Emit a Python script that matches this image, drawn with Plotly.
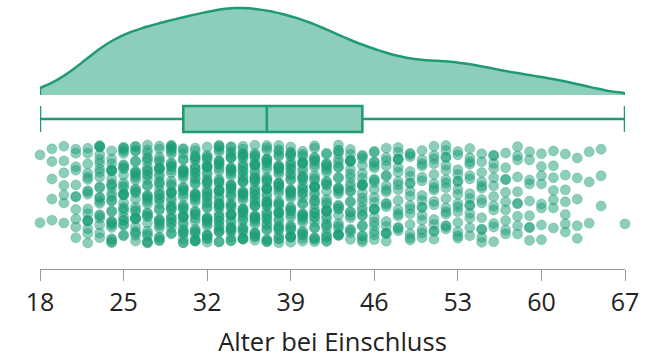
import plotly.graph_objects as go

# Data: number of participants per age
ages = list(range(18, 68))
counts = [2, 5, 7, 11, 17, 22, 26, 28, 29, 31, 32,
          34, 35, 36, 37, 39, 40, 40, 39, 38, 37,
          36, 34, 32, 30, 27, 23, 23, 21,
          18, 17, 16, 15, 15, 16, 15, 14, 13, 12,
          10, 10, 9, 8, 7, 7, 5, 3, 3, 0, 1]
tick_vals = [18, 25, 32, 39, 46, 53, 60, 67]
x_title = "Alter bei Einschluss"

DARK = "#1f9a74"
FILL = "rgba(27,158,119,0.5)"

values = []
for a, c in zip(ages, counts):
    values += [a] * c

# deterministic vertical jitter (layout only)
px, pf = [], []
phi = 0.6180339887
for a, c in zip(ages, counts):
    off = (a * 0.7548776662) % 1.0
    for k in range(c):
        f = (off + (k + 1) * phi + 0.13 * ((k * k * 0.5698) % 1.0)) % 1.0
        px.append(a)
        pf.append(f)

PT_LO, PT_HI = 26, 124
jy = [PT_LO + (PT_HI - PT_LO) * f for f in pf]

fig = go.Figure()
fig.add_trace(go.Violin(
    x=values, y0=174, orientation="h", side="positive",
    width=174, scalemode="width", spanmode="hard", bandwidth=1.7,
    points=False, box_visible=False, meanline_visible=False,
    fillcolor="rgba(27,158,119,0.5)", line=dict(color=DARK, width=2.5),
    hoverinfo="skip", showlegend=False))
fig.add_trace(go.Box(
    x=values, y0=150, orientation="h", width=26, whiskerwidth=1,
    boxpoints=False, fillcolor=FILL, line=dict(color=DARK, width=2.5),
    showlegend=False))
fig.add_trace(go.Scatter(
    x=px, y=jy, mode="markers", cliponaxis=False,
    marker=dict(size=10, color="rgba(27,158,119,0.5)",
                line=dict(width=0.5, color="rgba(27,158,119,0.6)")),
    showlegend=False))

fig.update_layout(
    width=654, height=358,
    margin=dict(l=40, r=29, t=0, b=89, autoexpand=False),
    paper_bgcolor="white", plot_bgcolor="white",
    violinmode="overlay", boxmode="overlay",
    font=dict(family="Open Sans", color="#222"),
    xaxis=dict(range=[18, 67], tickvals=tick_vals, ticktext=[str(t) for t in tick_vals],
               automargin=False,
               showgrid=False, zeroline=False, showline=True, linecolor="#999",
               linewidth=1, ticks="outside", ticklen=11, tickcolor="#999",
               tickfont=dict(size=25), title=dict(text=x_title, font=dict(size=25.5), standoff=22)),
    yaxis=dict(range=[0, 269], visible=False, automargin=False),
)
fig.write_html("out.html", config={"displayModeBar": False},
               post_script="document.body.style.margin='0';document.body.style.overflow='hidden';")
